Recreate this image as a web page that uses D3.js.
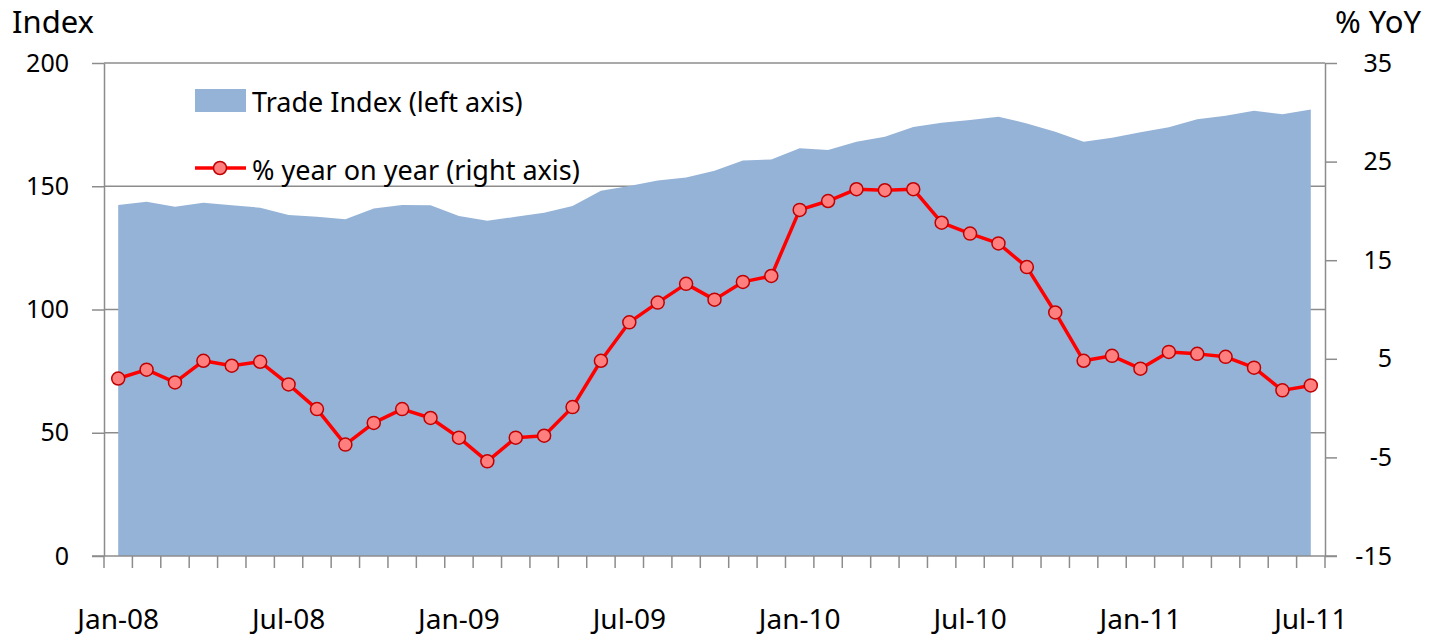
<!DOCTYPE html>
<html>
<head>
<meta charset="utf-8">
<script src="https://cdn.jsdelivr.net/npm/d3@7"></script>
<style>
  body { margin: 0; background: #fff; }
  svg { display: block; font-family: "Noto Sans", "Open Sans", sans-serif; }
</style>
</head>
<body>
<svg id="chart" width="1431" height="637"></svg>
<script>
// months shown on the category axis
const months = [
  'Jan-08','Feb-08','Mar-08','Apr-08','May-08','Jun-08','Jul-08','Aug-08','Sep-08','Oct-08','Nov-08','Dec-08',
  'Jan-09','Feb-09','Mar-09','Apr-09','May-09','Jun-09','Jul-09','Aug-09','Sep-09','Oct-09','Nov-09','Dec-09',
  'Jan-10','Feb-10','Mar-10','Apr-10','May-10','Jun-10','Jul-10','Aug-10','Sep-10','Oct-10','Nov-10','Dec-10',
  'Jan-11','Feb-11','Mar-11','Apr-11','May-11','Jun-11','Jul-11'
];

// Trade Index (left axis)
const tradeIndex = [
  142.4, 143.7, 141.7, 143.3, 142.3, 141.3, 138.3, 137.6, 136.6, 141.0, 142.4, 142.3,
  137.9, 136.0, 137.6, 139.3, 142.0, 148.2, 150.1, 152.3, 153.6, 156.3, 160.4, 160.9,
  165.4, 164.7, 168.1, 170.1, 174.0, 175.8, 176.9, 178.2, 175.5, 172.1, 168.1, 169.7,
  171.9, 173.9, 177.2, 178.6, 180.6, 179.2, 181.1
];

// % year on year (right axis)
const yoy = [
  3.0, 3.9, 2.6, 4.8, 4.3, 4.7, 2.4, -0.1, -3.7, -1.5, -0.1, -1.0,
  -3.0, -5.4, -3.0, -2.8, 0.1, 4.8, 8.7, 10.7, 12.6, 11.0, 12.8, 13.4,
  20.1, 21.0, 22.2, 22.1, 22.2, 18.8, 17.7, 16.7, 14.3, 9.7, 4.8, 5.3,
  4.0, 5.7, 5.5, 5.2, 4.1, 1.8, 2.3
];

const leftTicks = [0, 50, 100, 150, 200];
const rightTicks = [-15, -5, 5, 15, 25, 35];
const labelMonths = ['Jan-08','Jul-08','Jan-09','Jul-09','Jan-10','Jul-10','Jan-11','Jul-11'];

const svg = d3.select('#chart');
const plotL = 104, plotR = 1325, plotT = 63, plotB = 556;
const axisColor = '#8c8c8c';

const x = d3.scaleBand().domain(months).range([plotL, plotR]).padding(0);
const cx = m => x(m) + x.bandwidth() / 2;
const yL = d3.scaleLinear().domain([0, 200]).range([plotB, plotT]);
const yR = d3.scaleLinear().domain([-15, 35]).range([plotB, plotT]);

// gridlines (behind the area)
svg.append('g')
  .selectAll('line')
  .data(leftTicks.slice(1))
  .join('line')
  .attr('x1', plotL).attr('x2', plotR)
  .attr('y1', d => yL(d)).attr('y2', d => yL(d))
  .attr('stroke', axisColor).attr('stroke-width', 1.5);

// area
const area = d3.area()
  .x((d, i) => cx(months[i]))
  .y0(yL(0))
  .y1(d => yL(d));

svg.append('path')
  .datum(tradeIndex)
  .attr('d', area)
  .attr('fill', '#95b3d7');

// left axis
const gL = svg.append('g')
  .attr('transform', `translate(${plotL},0)`)
  .call(d3.axisLeft(yL).tickValues(leftTicks).tickSize(12).tickSizeOuter(0).tickPadding(23));
// right axis (plain hyphen for negatives)
const gR = svg.append('g')
  .attr('transform', `translate(${plotR},0)`)
  .call(d3.axisRight(yR).tickValues(rightTicks).tickFormat(d => String(d))
    .tickSize(12).tickSizeOuter(0).tickPadding(0));

[gL, gR].forEach(g => {
  g.select('.domain').attr('stroke', axisColor).attr('stroke-width', 1.5);
  g.selectAll('.tick line').attr('stroke', axisColor).attr('stroke-width', 1.5);
  g.selectAll('.tick text').attr('fill', '#000').style('font-size', '25px')
    .style('font-family', '"Noto Sans", sans-serif');
});
gR.selectAll('.tick text').attr('text-anchor', 'end').attr('x', 67);

// bottom axis: ticks between categories
const gB = svg.append('g');
gB.append('line')
  .attr('x1', plotL - 12).attr('x2', plotR + 12)
  .attr('y1', plotB).attr('y2', plotB)
  .attr('stroke', axisColor).attr('stroke-width', 1.5);
gB.selectAll('line.tk')
  .data(months.map(m => x(m)).concat([plotR]))
  .join('line')
  .attr('class', 'tk')
  .attr('x1', d => d).attr('x2', d => d)
  .attr('y1', plotB).attr('y2', plotB + 12)
  .attr('stroke', axisColor).attr('stroke-width', 1.5);
gB.selectAll('text')
  .data(labelMonths)
  .join('text')
  .attr('x', d => cx(d))
  .attr('y', 629)
  .attr('text-anchor', 'middle')
  .style('font-size', '28px')
  .text(d => d);

// yoy line
const line = d3.line()
  .x((d, i) => cx(months[i]))
  .y(d => yR(d));

svg.append('path')
  .datum(yoy)
  .attr('d', line)
  .attr('fill', 'none')
  .attr('stroke', '#ff0000')
  .attr('stroke-width', 3.5)
  .attr('stroke-linejoin', 'round');

svg.append('g')
  .selectAll('circle')
  .data(yoy)
  .join('circle')
  .attr('cx', (d, i) => cx(months[i]))
  .attr('cy', d => yR(d))
  .attr('r', 6.5)
  .attr('fill', '#ff7f7f')
  .attr('stroke', '#c00000')
  .attr('stroke-width', 1.5);

// axis titles
svg.append('text').attr('x', 12).attr('y', 33).style('font-size', '31px').text('Index');
svg.append('text').attr('x', 1421).attr('y', 33).attr('text-anchor', 'end').style('font-size', '31px').text('% YoY');

// legend
const lg = svg.append('g');
lg.append('rect').attr('x', 195).attr('y', 89).attr('width', 51).attr('height', 23).attr('fill', '#95b3d7');
lg.append('text').attr('x', 252).attr('y', 112).style('font-size', '27px').text('Trade Index (left axis)');
lg.append('line').attr('x1', 195).attr('x2', 246).attr('y1', 168).attr('y2', 168)
  .attr('stroke', '#ff0000').attr('stroke-width', 3.5);
lg.append('circle').attr('cx', 220).attr('cy', 168).attr('r', 6.5)
  .attr('fill', '#ff7f7f').attr('stroke', '#c00000').attr('stroke-width', 1.5);
lg.append('text').attr('x', 252).attr('y', 180).style('font-size', '27px').text('% year on year (right axis)');
</script>
</body>
</html>
